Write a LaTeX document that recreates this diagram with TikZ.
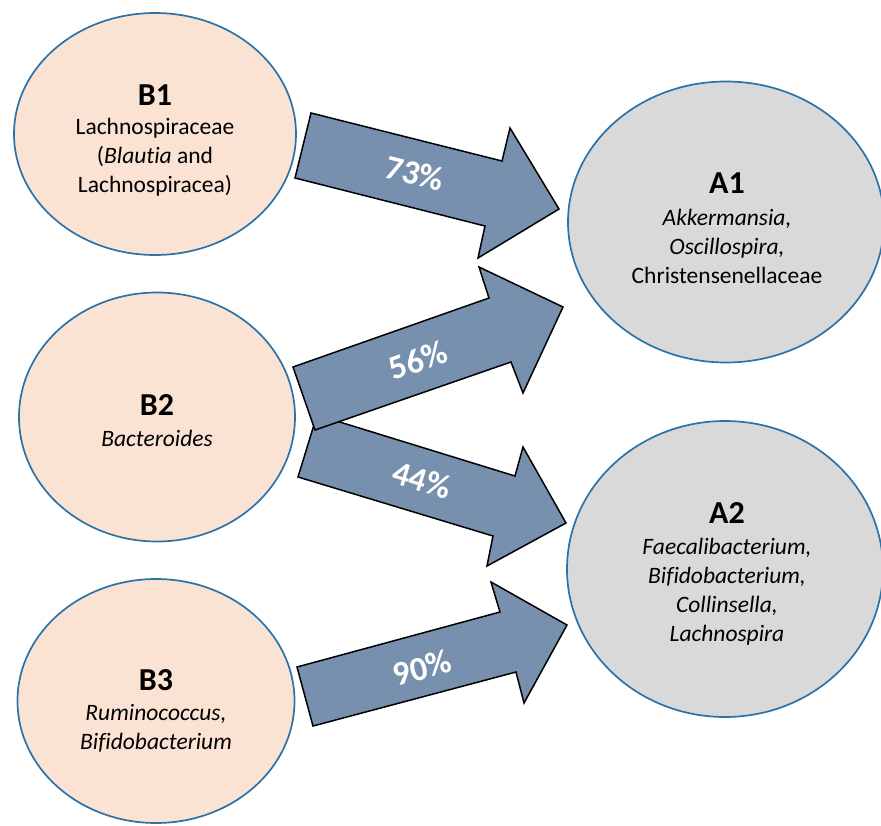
\documentclass[tikz,border=0pt]{standalone}
\usepackage{fontspec}
\setmainfont{Carlito}[Ligatures={NoCommon}]
\usetikzlibrary{shapes.geometric}
\definecolor{peach}{HTML}{FBE3D4}
\definecolor{greyfill}{HTML}{D9D9D9}
\definecolor{rimblue}{HTML}{2A72A8}
\definecolor{arrowfill}{HTML}{7790AD}
\begin{document}
\begin{tikzpicture}[x=1pt,y=-1pt,
  bubB/.style={ellipse, draw=rimblue, line width=1.7pt, fill=peach, inner sep=0pt, outer sep=0pt},
  bubA/.style={ellipse, draw=rimblue, line width=1.7pt, fill=greyfill, inner sep=0pt, outer sep=0pt},
  headtxt/.style={font=\fontsize{32}{32}\selectfont\bfseries, inner sep=0pt},
  bodytxt/.style={font=\fontsize{23.5}{29}\selectfont, align=center, inner sep=0pt},
  blk/.style={draw=black, line width=1.5pt, fill=arrowfill, line join=miter},
  pct/.style={font=\fontsize{34}{34}\selectfont\bfseries, text=white, inner sep=0pt}]
\useasboundingbox (0,0) rectangle (881,825);

% left ellipses
\node[bubB, minimum width=282pt, minimum height=242pt] (B1) at (155,134) {};
\node[bubB, minimum width=276pt, minimum height=249pt] (B2) at (157,417) {};
\node[bubB, minimum width=277pt, minimum height=244pt] (B3) at (156,701) {};
% right ellipses
\node[bubA, minimum width=316pt, minimum height=281pt] (A1) at (726,222) {};
\node[bubA, minimum width=316pt, minimum height=296pt] (A2) at (725,569) {};

% texts
\node[headtxt] (B1h) at (155,95) {B1};
\node[bodytxt] (B1b) at (155,157) {Lachnospiraceae\\(\textit{Blautia} and\\Lachnospiracea)};
\node[headtxt] (B2h) at (157,405) {B2};
\node[bodytxt] (B2b) at (157,438) {\textit{Bacteroides}};
\node[headtxt] (B3h) at (156,680) {B3};
\node[bodytxt] (B3b) at (156,728.5) {\textit{Ruminococcus,}\\\textit{Bifidobacterium}};
\node[headtxt] (A1h) at (727,183) {A1};
\node[bodytxt] (A1b) at (727,246.5) {\textit{Akkermansia,}\\\textit{Oscillospira,}\\Christensenellaceae};
\node[headtxt] (A2h) at (727,513) {A2};
\node[bodytxt] (A2b) at (727,591.5) {\textit{Faecalibacterium,}\\\textit{Bifidobacterium,}\\\textit{Collinsella,}\\\textit{Lachnospira}};

% block arrows
\draw[blk] (311,113) -- (502,161) -- (510,128) -- (559,209) -- (478,258) -- (485,226) -- (295,178) -- cycle;
\draw[blk] (317,415) -- (515,476) -- (523,447) -- (566,523) -- (487,566) -- (493,536) -- (298,477) -- cycle;
\draw[blk] (293,367) -- (489,298) -- (479,267) -- (563,307) -- (523,393) -- (511,362) -- (315,430) -- cycle;
\draw[blk] (297,667) -- (500,612) -- (491,582) -- (567,625) -- (524,703) -- (516,672) -- (313,726) -- cycle;

\node[pct, rotate=-14] (p73) at (415,173) {73\%};
\node[pct, rotate=19.4] (p56) at (418,360) {56\%};
\node[pct, rotate=-17] (p44) at (422,480) {44\%};
\node[pct, rotate=15] (p90) at (422,668) {90\%};
\end{tikzpicture}
\end{document}
